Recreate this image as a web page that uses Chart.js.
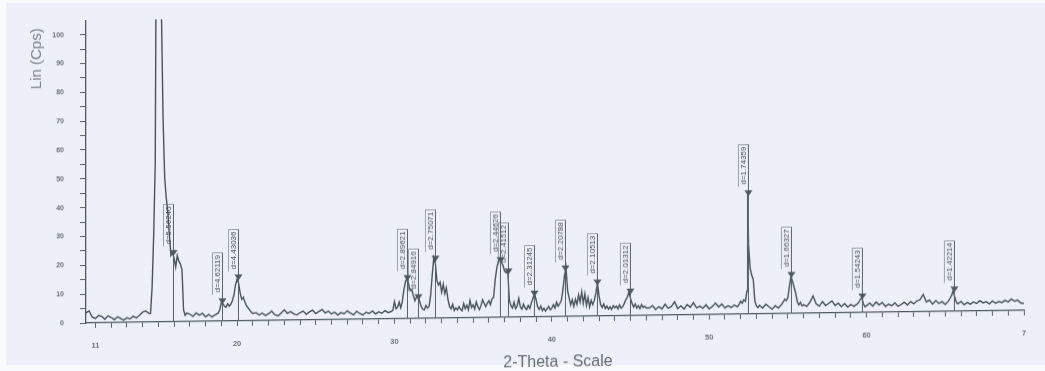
<!DOCTYPE html>
<html><head><meta charset="utf-8">
<script src="https://cdn.jsdelivr.net/npm/chart.js@4"></script>
<style>
html,body{margin:0;padding:0;width:1045px;height:371px;overflow:hidden;background:#fafbfd;}
#paper{position:absolute;left:6px;top:3px;width:1039px;height:362px;background:#edf0f8;}
#wrap{position:absolute;left:0;top:0;width:1045px;height:390px;transform-origin:86px 323px;transform:skewY(-0.77deg);}
canvas{display:block}
</style></head><body>
<div id="paper"></div>
<div id="wrap"><canvas id="c" width="1045" height="390"></canvas></div>
<script>
// ---- data ----
const twoTheta = [
  10.4,10.6,10.8,11.0,11.2,11.4,11.6,11.8,12.0,12.2,12.4,12.6,12.8,13.0,13.2,13.4,13.6,13.8,14.0,14.2,14.4,
  14.5,14.6,14.7,14.8,14.9,15.0,15.1,15.2,15.3,15.4,15.5,15.6,15.7,15.8,15.9,16.0,16.1,16.2,16.3,16.4,16.5,16.6,16.7,16.8,
  17.0,17.2,17.4,17.6,17.8,18.0,18.2,18.4,18.6,18.8,
  18.9,19.0,19.1,19.2,19.3,19.4,19.5,19.6,19.7,19.8,19.9,20.0,20.1,20.2,20.3,20.4,20.5,20.6,20.7,20.8,20.9,21.0,
  21.2,21.4,21.6,21.8,
  22.0,22.2,22.4,22.6,22.8, 23.0,23.2,23.4,23.6,23.8, 24.0,24.2,24.4,24.6,24.8, 25.0,25.2,25.4,25.6,25.8,
  26.0,26.2,26.4,26.6,26.8, 27.0,27.2,27.4,27.6,27.8, 28.0,28.2,28.4,28.6,28.8, 29.0,29.2,29.4,29.6,29.8,
  29.9,
  30.0,30.1,30.2,30.3,30.4,30.5,30.6,30.7,30.8,30.9,
  31.0,31.1,31.2,31.3,31.4,31.5,31.6,31.7,31.8,31.9,
  32.0,32.1,32.2,32.3,32.4,32.5,32.6,32.7,32.8,32.9,
  33.0,33.1,33.2,33.3,33.4,33.5,33.6,33.7,33.8,33.9,
  34.0,34.1,34.2,34.3,34.4,34.5,34.6,34.7,34.8,34.9,
  35.0,35.1,35.2,35.3,35.4,35.5,35.6,35.7,35.8,35.9,
  36.0,36.1,36.2,36.3,36.4,36.5,36.6,36.7,36.8,36.9,
  37.0,37.1,37.2,37.3,37.4,37.5,37.6,37.7,37.8,37.9,
  38.0,38.1,38.2,38.3,38.4,38.5,38.6,38.7,38.8,38.9,
  39.0,39.1,39.2,39.3,39.4,39.5,39.6,39.7,39.8,39.9,
  40.0,40.1,40.2,40.3,40.4,40.5,40.6,40.7,40.8,40.9,
  41.0,41.1,41.2,41.3,41.4,41.5,41.6,41.7,41.8,41.9,
  42.0,42.1,42.2,42.3,42.4,42.5,42.6,42.7,42.8,42.9,
  43.0,43.1,43.2,43.3,43.4,43.5,43.6,43.7,43.8,43.9,
  44.0,44.1,44.2,44.3,44.4,44.5,44.6,44.7,44.8,44.9,
  45.0,45.1,45.2,45.3,45.4,45.5,45.6,45.7,45.8,45.9,
  46.0,
  46.2,46.4,46.6,46.8, 47.0,47.2,47.4,47.6,47.8, 48.0,48.2,48.4,48.6,48.8, 49.0,49.2,49.4,49.6,49.8,
  50.0,50.2,50.4,50.6,50.8, 51.0,51.2,51.4,51.6,51.8,
  51.9,52.0,52.1,52.2,52.3,52.4,52.45,52.5,52.6,52.7,52.8,52.9,53.0,53.1,
  53.2,53.4,53.6,53.8,54.0,54.2,54.4,54.6,
  54.7,54.8,54.9,55.0,55.1,55.2,55.3,55.4,55.5,55.6,55.7,55.8,55.9,
  56.0,56.2,56.4,56.6,56.8, 57.0,57.2,57.4,57.6,57.8, 58.0,58.2,58.4,58.6,58.8, 59.0,59.2,59.4,
  59.5,59.6,59.7,59.8,59.9,
  60.0,60.2,60.4,60.6,60.8, 61.0,61.2,61.4,61.6,61.8, 62.0,62.2,62.4,62.6,62.8,
  63.0,63.2,63.4,63.6,63.8, 64.0,64.2,64.4,64.6,64.8, 65.0,65.2,
  65.3,65.4,65.5,65.6,65.7,
  65.8, 66.0,66.2,66.4,66.6,66.8, 67.0,67.2,67.4,67.6,67.8, 68.0,68.2,68.4,68.6,68.8,
  69.0,69.2,69.4,69.6,69.8, 70.0
];
const counts = [
  3.5,4.2,2.0,1.5,2.6,2.2,1.2,2.4,1.8,1.0,2.0,1.4,0.8,1.6,1.2,2.1,1.5,2.4,3.5,3.9,3.0,
  3.0,12,30,55,180,400,260,105,70,50,43,38,30,23,24,22,19,23,21,20,18,4,2.2,3.0,
  2.6,1.8,3.0,2.2,2.8,1.6,2.4,1.5,2.2,2.8,
  4.0,6.5,6.0,5.2,4.8,6.0,5.2,5.8,7.0,9.0,12.5,14.5,13.0,9.5,7.5,8.2,6.5,5.2,4.5,3.8,3.0,2.5,
  2.8,2.0,2.6,1.8,
  2.4,3.2,2.0,1.6,2.5, 3.6,2.4,3.0,2.2,1.8, 2.6,3.1,2.0,2.8,3.4, 2.2,2.9,3.6,2.4,3.0,
  2.0,2.6,1.6,2.4,2.0, 3.0,2.2,1.6,2.8,2.0, 1.5,2.4,2.0,2.8,1.8, 2.5,2.0,2.9,2.2,2.6,
  3.0,
  6.0,3.5,4.0,5.8,3.8,6.0,10.0,12.8,14.0,12.0,
  9.8,10.2,8.0,6.2,7.5,7.8,6.0,4.2,3.2,3.0,
  4.5,3.6,4.2,8.0,15.0,21.0,19.0,13.0,11.5,12.5,
  9.0,11.8,8.5,10.5,6.5,4.0,3.2,4.8,2.6,3.5,
  2.8,4.0,3.0,2.5,5.0,3.2,4.4,2.8,6.0,3.6,
  4.5,3.0,5.5,3.8,2.8,4.2,6.2,5.0,3.8,5.0,
  5.8,4.5,6.5,7.0,13.0,17.0,19.5,20.5,19.0,18.0,
  16.0,15.5,16.0,6.0,4.0,3.2,5.2,3.0,4.0,6.5,
  3.6,2.8,4.5,3.2,2.6,4.0,3.0,4.8,6.5,8.0,
  6.0,3.5,2.6,3.8,2.2,3.0,2.0,2.8,3.6,2.4,
  3.0,4.2,3.0,5.0,3.6,4.5,5.5,9.0,14.0,17.0,
  9.0,6.5,4.0,5.8,3.5,6.0,4.2,7.5,5.0,8.5,
  4.5,7.8,3.8,6.5,3.2,5.5,4.0,5.5,8.0,11.5,
  7.0,4.0,3.0,4.2,2.6,3.5,2.4,3.2,2.2,3.6,
  2.8,3.4,2.4,3.8,2.6,3.2,4.2,5.5,6.5,8.2,
  6.0,4.2,3.0,4.0,2.6,3.4,2.4,3.8,2.8,3.2,
  2.6,
  2.6,3.4,2.0,3.0, 2.2,3.8,2.4,3.0,4.6, 2.2,3.2,2.0,3.6,2.6, 4.2,2.4,3.0,2.2,3.4,
  2.0,2.8,4.0,2.6,3.6, 2.2,3.0,2.4,3.2,2.6,
  3.4,4.5,3.8,5.0,4.5,8.0,41.5,24,16,13.5,12,4.5,2.8,2.2,
  3.0,2.0,3.4,2.4,1.6,2.8,2.0,3.2,
  4.0,5.0,4.5,5.5,9.5,13.0,11.0,9.0,7.0,4.0,3.0,3.8,2.6,
  3.0,2.4,3.8,6.0,3.2, 2.4,4.0,2.6,3.4,4.2, 2.6,3.4,2.2,3.2,2.0, 2.8,2.2,3.0,
  3.5,4.5,5.2,3.0,2.0,
  2.4,3.2,2.2,3.6,2.6, 3.4,2.0,2.8,2.2,3.2, 2.0,2.6,3.4,2.4,3.6,
  2.8,3.8,4.2,6.0,3.4, 4.0,2.6,3.8,2.8,3.4, 2.4,3.6,
  4.5,5.5,7.2,5.0,3.2,
  2.6, 3.4,2.2,3.0,2.4,3.2, 2.6,3.6,2.8,3.2,2.4, 3.4,2.6,3.2,2.8,3.6,
  3.0,4.0,3.2,3.6,2.6, 2.4
];
if (twoTheta.length !== counts.length) throw new Error('length mismatch ' + twoTheta.length + ' vs ' + counts.length);

const peakTheta = [15.93,19.05,20.06,30.80,31.50,32.55,36.70,37.20,38.88,40.85,42.90,44.95,52.46,55.20,59.71,65.55];
const peakMark  = [23.5,6.5,14.7,13.7,7.0,20.3,19.5,15.5,7.7,16.3,11.3,8.0,41.5,13.0,5.2,7.2];
const peakLabel = ["d=5.56240","d=4.62119","d=4.43036","d=2.89621","d=2.84916","d=2.75071","d=2.44626","d=2.41512",
                   "d=2.31245","d=2.20788","d=2.10513","d=2.01312","d=1.74359","d=1.66327","d=1.54243","d=1.42214"];

const xLabelValues = [11,20,30,40,50,60,70];
const xLabelTexts  = ["11","20","30","40","50","60","7"];
const yTitle = "Lin (Cps)";
const xTitle = "2-Theta - Scale";

// ---- drawing ----
const FONT = "'Liberation Sans', Arial, sans-serif";
const CANVAS_H = 390, AREA_BOTTOM = 323;

const annotate = {
  id: 'annotate',
  afterDatasetsDraw(chart) {
    const ctx = chart.ctx, xs = chart.scales.x, ys = chart.scales.y;
    const base = ys.getPixelForValue(0);
    ctx.save();
    peakTheta.forEach((t, i) => {
      const px = Math.round(xs.getPixelForValue(t)) + 0.5;
      const py = ys.getPixelForValue(peakMark[i]);
      const top = Math.round(py - 50) + 0.5;
      ctx.strokeStyle = '#56616a';
      ctx.lineWidth = 1;
      ctx.beginPath(); ctx.moveTo(px, top); ctx.lineTo(px, base); ctx.stroke();
      ctx.strokeStyle = 'rgba(86,97,106,0.55)';
      ctx.beginPath();
      ctx.moveTo(px, top); ctx.lineTo(px - 10, top); ctx.lineTo(px - 10, top + 42); ctx.stroke();
      ctx.save();
      ctx.translate(px - 5, top + 21);
      ctx.rotate(-Math.PI / 2);
      ctx.font = '8px ' + FONT;
      ctx.fillStyle = '#4a5058';
      ctx.textAlign = 'center';
      ctx.textBaseline = 'middle';
      ctx.fillText(peakLabel[i], 0, 0);
      ctx.restore();
      ctx.fillStyle = '#4f5a63';
      ctx.beginPath();
      ctx.moveTo(px - 4, py - 4); ctx.lineTo(px + 4, py - 4); ctx.lineTo(px, py + 2);
      ctx.closePath(); ctx.fill();
    });
    // axis titles
    ctx.fillStyle = '#7b828c';
    ctx.font = '15px ' + FONT;
    ctx.save();
    ctx.translate(37, 58);
    ctx.rotate(-Math.PI / 2);
    ctx.textAlign = 'center'; ctx.textBaseline = 'middle';
    ctx.fillText(yTitle, 0, 0);
    ctx.restore();
    ctx.fillStyle = '#656b72';
    ctx.font = '16px ' + FONT;
    ctx.textAlign = 'center'; ctx.textBaseline = 'middle';
    ctx.fillText(xTitle, 558, 369);
    ctx.restore();
  }
};

new Chart(document.getElementById('c').getContext('2d'), {
  type: 'line',
  data: {
    datasets: [{
      data: twoTheta.map((t, i) => ({ x: t, y: counts[i] })),
      borderColor: '#47525b',
      borderWidth: 1.4,
      pointRadius: 0,
      tension: 0,
      fill: false
    }]
  },
  options: {
    responsive: false,
    animation: false,
    devicePixelRatio: 1,
    events: [],
    layout: { padding: { top: 1, right: 21, left: 0, bottom: 0 } },
    plugins: { legend: { display: false }, tooltip: { enabled: false } },
    scales: {
      x: {
        type: 'linear', min: 10.4, max: 70,
        afterBuildTicks: s => {
          const arr = [];
          for (let v = 11; v <= 70; v++) arr.push({ value: v });
          s.ticks = arr;
        },
        afterFit: s => { s.height = CANVAS_H - AREA_BOTTOM; },
        ticks: {
          autoSkip: false, maxRotation: 0, padding: 13,
          color: '#6b7078',
          font: { family: FONT, size: 7.5, weight: 'bold' },
          callback: v => { const k = xLabelValues.indexOf(v); return k >= 0 ? xLabelTexts[k] : ''; }
        },
        grid: { drawOnChartArea: false, drawTicks: true, tickLength: 5, color: '#5a636b', lineWidth: 1 },
        border: { display: true, color: '#4f5860', width: 1.3 }
      },
      y: {
        type: 'linear', min: 0, max: 105,
        afterBuildTicks: s => {
          const arr = [];
          for (let v = 0; v <= 100; v += 5) arr.push({ value: v });
          s.ticks = arr;
        },
        afterFit: s => { s.width = 86; },
        ticks: {
          padding: 16, color: '#6b7078',
          font: { family: FONT, size: 7, weight: 'bold' },
          callback: v => (v % 10 === 0 ? String(v) : '')
        },
        grid: { drawOnChartArea: false, drawTicks: true, tickLength: 6, color: '#5a636b', lineWidth: 1 },
        border: { display: true, color: '#4f5860', width: 1.3 }
      }
    }
  },
  plugins: [annotate]
});
</script>
</body></html>
